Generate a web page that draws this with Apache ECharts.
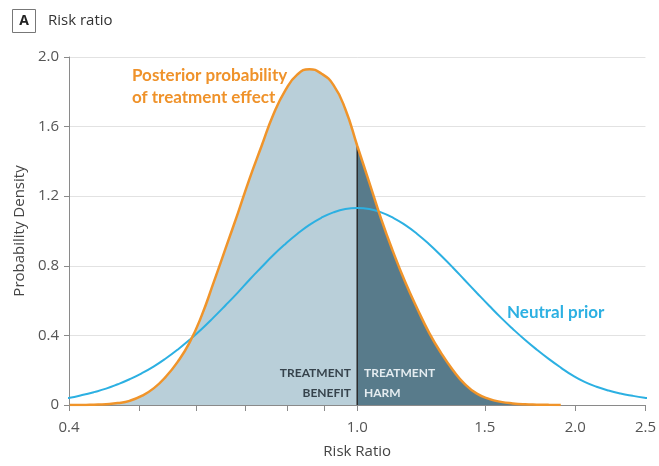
<!DOCTYPE html>
<html>
<head>
<meta charset="utf-8">
<script src="https://cdn.jsdelivr.net/npm/echarts@6/dist/echarts.min.js"></script>
<style>
    html, body { margin: 0; padding: 0; background: #fff; }
    #chart { width: 659px; height: 466px; }
</style>
</head>
<body>
<div id="chart"></div>
<script>
    // posterior probability of treatment effect (risk ratio -> density)
    const posteriorRR = [0.401, 0.417, 0.433, 0.450, 0.467, 0.485, 0.504, 0.524, 0.544, 0.565, 0.587, 0.610, 0.633, 0.658, 0.684, 0.710, 0.738, 0.766, 0.796, 0.827, 0.859, 0.892, 0.927, 0.963, 1.0,
        1.039, 1.079, 1.121, 1.164, 1.210, 1.257, 1.305, 1.356, 1.408, 1.463, 1.520, 1.579, 1.640, 1.704, 1.770, 1.838, 1.910]
    const posteriorDensity = [0, 0, 0.002, 0.005, 0.011, 0.024, 0.052, 0.097, 0.162, 0.248, 0.36, 0.515, 0.70, 0.90, 1.10, 1.30, 1.49, 1.67, 1.81, 1.90, 1.93, 1.905, 1.84, 1.70, 1.49,
        1.28, 1.07, 0.88, 0.71, 0.555, 0.415, 0.30, 0.20, 0.12, 0.065, 0.035, 0.018, 0.009, 0.004, 0.002, 0.001, 0]
    // neutral prior
    const priorRR = [0.386, 0.401, 0.417, 0.433, 0.450, 0.467, 0.485, 0.504, 0.524, 0.544, 0.565, 0.587, 0.610, 0.633, 0.658, 0.684, 0.710, 0.738, 0.766, 0.796, 0.827, 0.859, 0.892, 0.927, 0.963, 1.0,
        1.039, 1.079, 1.121, 1.164, 1.210, 1.257, 1.305, 1.356, 1.408, 1.463, 1.520, 1.579, 1.640, 1.704, 1.770, 1.838, 1.910, 1.983, 2.060, 2.140, 2.223, 2.309, 2.399, 2.492, 2.589]
    const priorDensity = [0.033, 0.042, 0.057, 0.074, 0.094, 0.119, 0.148, 0.182, 0.222, 0.267, 0.318, 0.375, 0.437, 0.502, 0.573, 0.646, 0.72, 0.793, 0.862, 0.926, 0.984, 1.035, 1.076, 1.107, 1.126, 1.132,
        1.126, 1.107, 1.076, 1.035, 0.983, 0.924, 0.859, 0.789, 0.717, 0.644, 0.572, 0.502, 0.437, 0.375, 0.318, 0.265, 0.215, 0.170, 0.133, 0.105, 0.083, 0.066, 0.053, 0.042, 0.033]
    const tickRR = [0.4, 0.5, 0.6, 0.7, 0.8, 0.9, 1.0, 1.5, 2.0, 2.5]
    const labelRR = [0.4, 1.0, 1.5, 2.0, 2.5]
    const splitRR = 1.0

    const font = '"Open Sans", "Noto Sans", sans-serif'
    const boldFont = 'Lato, "Noto Sans", sans-serif'
    const pts = (xs, ys) => xs.map((x, i) => [Math.log(x), ys[i]])
    const posterior = pts(posteriorRR, posteriorDensity)
    const benefit = posterior.filter((p, i) => posteriorRR[i] <= splitRR)
    const harm = posterior.filter((p, i) => posteriorRR[i] >= splitRR)
    const splitTop = posteriorDensity[posteriorRR.indexOf(splitRR)]

    let myChart = echarts.init(document.getElementById('chart'))
    let option = {
        animation: false,
        grid: { left: 69, right: 11, top: 57, bottom: 61 },
        xAxis: {
            type: 'value',
            min: Math.log(0.4),
            max: Math.log(2.5),
            name: 'Risk Ratio',
            nameLocation: 'middle',
            nameGap: 39,
            nameTextStyle: { fontFamily: font, fontSize: 15, color: '#444' },
            axisLine: { onZero: false, lineStyle: { color: '#8a8a8a', width: 1 } },
            axisTick: { show: true, length: 6, customValues: tickRR.map(Math.log), lineStyle: { color: '#8a8a8a' } },
            axisLabel: {
                customValues: labelRR.map(Math.log),
                formatter: v => Math.exp(v).toFixed(1),
                margin: 15,
                fontFamily: font, fontSize: 15, color: '#555'
            },
            splitLine: { show: false }
        },
        yAxis: {
            type: 'value',
            min: 0,
            max: 2.0,
            interval: 0.4,
            name: 'Probability Density',
            nameLocation: 'middle',
            nameGap: 40,
            nameTextStyle: { fontFamily: font, fontSize: 15, color: '#444' },
            axisLine: { show: true, onZero: false, lineStyle: { color: '#8a8a8a', width: 1 } },
            axisTick: { show: true, length: 5, lineStyle: { color: '#8a8a8a' } },
            axisLabel: {
                formatter: v => v === 0 ? '0' : v.toFixed(1),
                margin: 10,
                fontFamily: font, fontSize: 15, color: '#555'
            },
            splitLine: { lineStyle: { color: '#e2e2e2', width: 1 } }
        },
        series: [
            {
                type: 'line', data: benefit, smooth: true, showSymbol: false,
                lineStyle: { width: 0 }, areaStyle: { color: '#b9cfd9', opacity: 1 }, z: 1
            },
            {
                type: 'line', data: harm, smooth: true, showSymbol: false,
                lineStyle: { width: 0 }, areaStyle: { color: '#587b8b', opacity: 1 }, z: 1
            },
            {
                type: 'line', data: [[Math.log(splitRR), 0], [Math.log(splitRR), splitTop]], showSymbol: false,
                lineStyle: { color: '#2b2b2b', width: 1.5 }, z: 2
            },
            {
                type: 'line', data: pts(priorRR, priorDensity), smooth: true, showSymbol: false,
                lineStyle: { color: '#2cb0e2', width: 2 }, z: 3
            },
            {
                type: 'line', data: posterior, smooth: true, showSymbol: false,
                lineStyle: { color: '#f0942a', width: 2.5 }, z: 4
            }
        ],
        graphic: [
            { type: 'rect', shape: { x: 12.5, y: 9.5, width: 23, height: 23 }, style: { fill: '#fff', stroke: '#777', lineWidth: 1 } },
            { type: 'text', x: 24, y: 21, style: { text: 'A', fontFamily: font, fontSize: 14, fontWeight: 'bold', fill: '#222', align: 'center', verticalAlign: 'middle' } },
            { type: 'text', x: 48, y: 21, style: { text: 'Risk ratio', fontFamily: font, fontSize: 15, fill: '#333', verticalAlign: 'middle' } },
            { type: 'text', x: 132, y: 76, style: { text: 'Posterior probability', fontFamily: boldFont, fontSize: 17, fontWeight: 'bold', fill: '#ef922a', verticalAlign: 'middle' } },
            { type: 'text', x: 132, y: 98, style: { text: 'of treatment effect', fontFamily: boldFont, fontSize: 17, fontWeight: 'bold', fill: '#ef922a', verticalAlign: 'middle' } },
            { type: 'text', x: 507, y: 313, style: { text: 'Neutral prior', fontFamily: boldFont, fontSize: 17, fontWeight: 'bold', fill: '#2cb0e2', verticalAlign: 'middle' } },
            { type: 'text', x: 351, y: 373, z: 10, style: { text: 'TREATMENT', fontFamily: boldFont, fontSize: 12, fontWeight: 'bold', fill: '#36434c', align: 'right', verticalAlign: 'middle' } },
            { type: 'text', x: 351, y: 393, z: 10, style: { text: 'BENEFIT', fontFamily: boldFont, fontSize: 12, fontWeight: 'bold', fill: '#36434c', align: 'right', verticalAlign: 'middle' } },
            { type: 'text', x: 364, y: 373, z: 10, style: { text: 'TREATMENT', fontFamily: boldFont, fontSize: 12, fontWeight: 'bold', fill: '#e4ecf0', verticalAlign: 'middle' } },
            { type: 'text', x: 364, y: 393, z: 10, style: { text: 'HARM', fontFamily: boldFont, fontSize: 12, fontWeight: 'bold', fill: '#e4ecf0', verticalAlign: 'middle' } }
        ]
    }
    myChart.setOption(option)
</script>
</body>
</html>
